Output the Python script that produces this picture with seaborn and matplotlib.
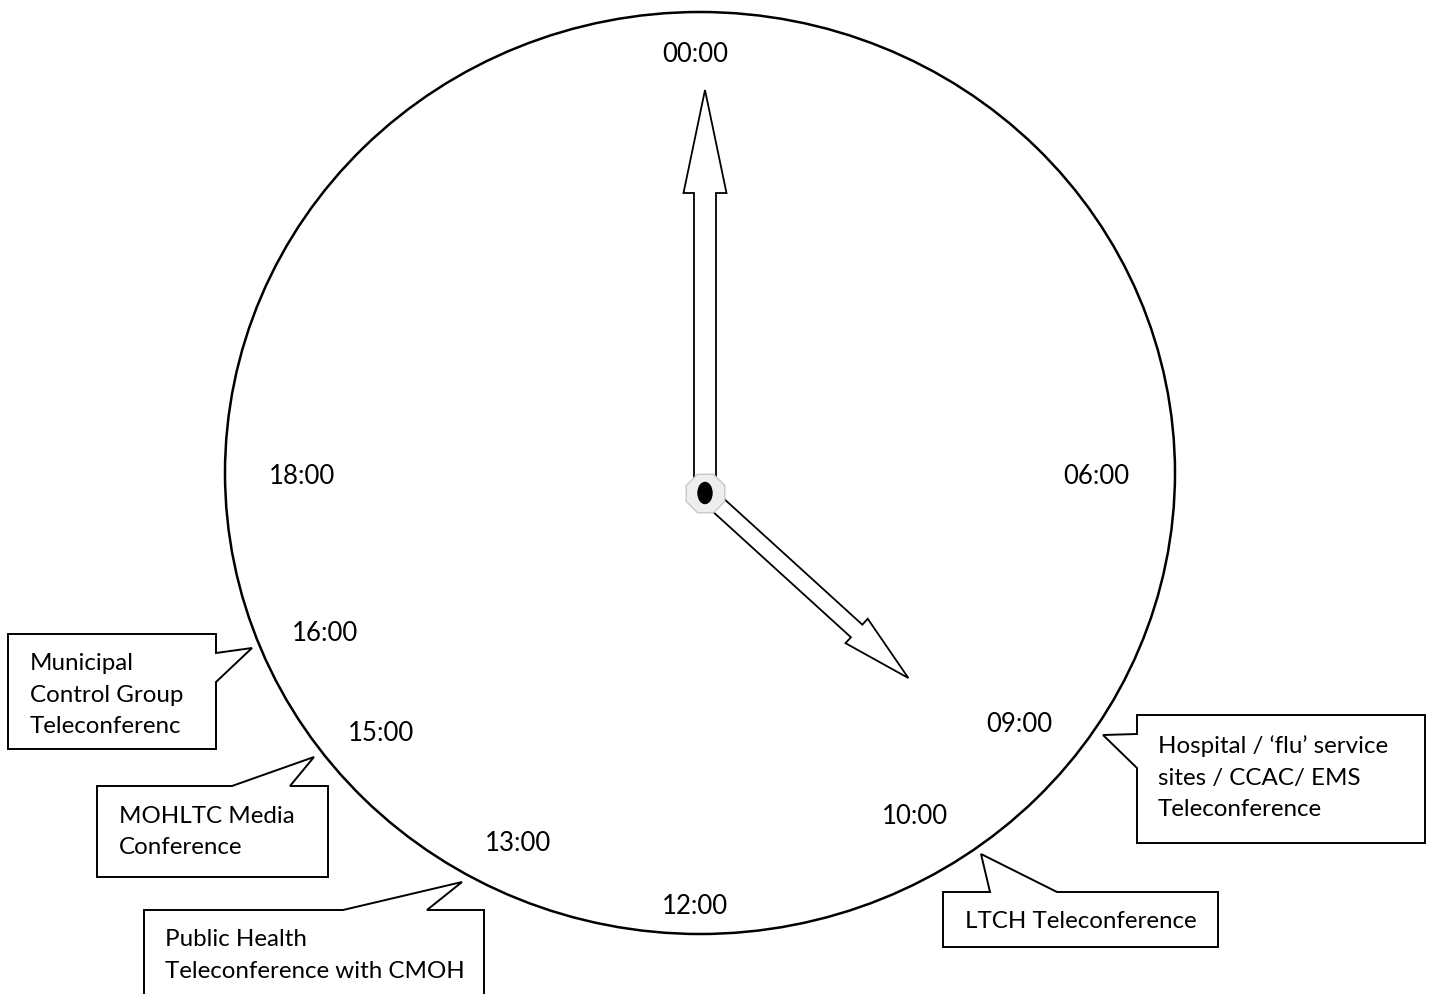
import numpy as np
import seaborn as sns
import matplotlib.pyplot as plt
from matplotlib.patches import Ellipse, Polygon, FancyArrow
from matplotlib.transforms import Bbox, TransformedBbox

# data
hour_labels = ["00:00", "06:00", "18:00", "16:00", "15:00", "13:00", "12:00", "10:00", "09:00"]
hand_names = ["minute", "hour"]
hand_angles = [0.0, 132.3]  # degrees clockwise from 00:00
callout_texts = [
    ["Municipal", "Control Group", "Teleconferenc"],
    ["MOHLTC Media", "Conference"],
    ["Public Health", "Teleconference with CMOH"],
    ["Hospital / \u2018flu\u2019 service", "sites / CCAC/ EMS", "Teleconference"],
    ["LTCH Teleconference"],
]

# layout (pixel-like units, y grows downwards)
W, H = 1431, 994
face_center, face_w, face_h = (700, 473), 950, 922
pivot = (705, 493)
hand_len = [403, 275]
hand_width = [22, 17]
hand_head_w = [43, 33]
hand_head_l = [103, 70]
label_pos = [(695, 62), (1096, 484), (302, 484), (325, 641), (381, 741),
             (518, 851), (695, 914), (915, 824), (1019, 732)]
label_clip = [True, False, True, False, False, False, True, False, False]
callout_shapes = [
    [(8, 634), (216, 634), (216, 653), (252, 648), (216, 682), (216, 749), (8, 749)],
    [(97, 786), (232, 786), (314, 757), (290, 786), (328, 786), (328, 877), (97, 877)],
    [(144, 910), (343, 910), (462, 882), (427, 910), (484, 910), (484, 1010), (144, 1010)],
    [(1137, 715), (1425, 715), (1425, 843), (1137, 843), (1137, 768), (1103, 735), (1137, 734)],
    [(943, 892), (990, 892), (981, 854), (1057, 892), (1218, 892), (1218, 947), (943, 947)],
]
text_origin = [(30, 670), (119, 823), (165, 946), (1158, 753), (965, 928)]
line_step = 31.5

sns.set_theme(style="white")
plt.rcParams['font.family'] = ['Lato', 'DejaVu Sans']

fig = plt.figure(figsize=(W / 100, H / 100), dpi=100)
ax = fig.add_axes([0, 0, 1, 1])
ax.set_xlim(0, W)
ax.set_ylim(H, 0)
ax.axis('off')

# clock face
ax.add_patch(Ellipse(face_center, face_w, face_h, fill=False, ec='black', lw=1.8))

# hour labels
for lab, (x, y), clip in zip(hour_labels, label_pos, label_clip):
    t = ax.text(x, y, lab, ha='center', va='baseline', fontsize=18.5, color='black')
    if clip:
        t.set_clip_box(TransformedBbox(Bbox([[x - 60, y - 40], [x + 60, y + 1]]), ax.transData))
        t.set_clip_on(True)

# hands
for ang, L, w, hw, hl in zip(hand_angles, hand_len, hand_width, hand_head_w, hand_head_l):
    th = np.deg2rad(ang)
    dx, dy = L * np.sin(th), -L * np.cos(th)
    ax.add_patch(FancyArrow(pivot[0], pivot[1], dx, dy, width=w, head_width=hw,
                            head_length=hl, length_includes_head=True,
                            fc='white', ec='black', lw=1.3, zorder=3))

# pivot
sns.scatterplot(x=[pivot[0]], y=[pivot[1]], marker='8', s=900, color='#eeeeee',
                edgecolor='#c8c8c8', linewidth=1, ax=ax, zorder=4, legend=False)
ax.add_patch(Ellipse(pivot, 14, 21, fc='black', ec='black', zorder=5))

# callouts
for shape, lines, (tx, ty) in zip(callout_shapes, callout_texts, text_origin):
    ax.add_patch(Polygon(shape, closed=True, fc='white', ec='black', lw=1.4, zorder=2))
    for i, line in enumerate(lines):
        ax.text(tx, ty + i * line_step, line, ha='left', va='baseline',
                fontsize=17.4, color='black', zorder=3)

fig.savefig('out.png', dpi=100)
